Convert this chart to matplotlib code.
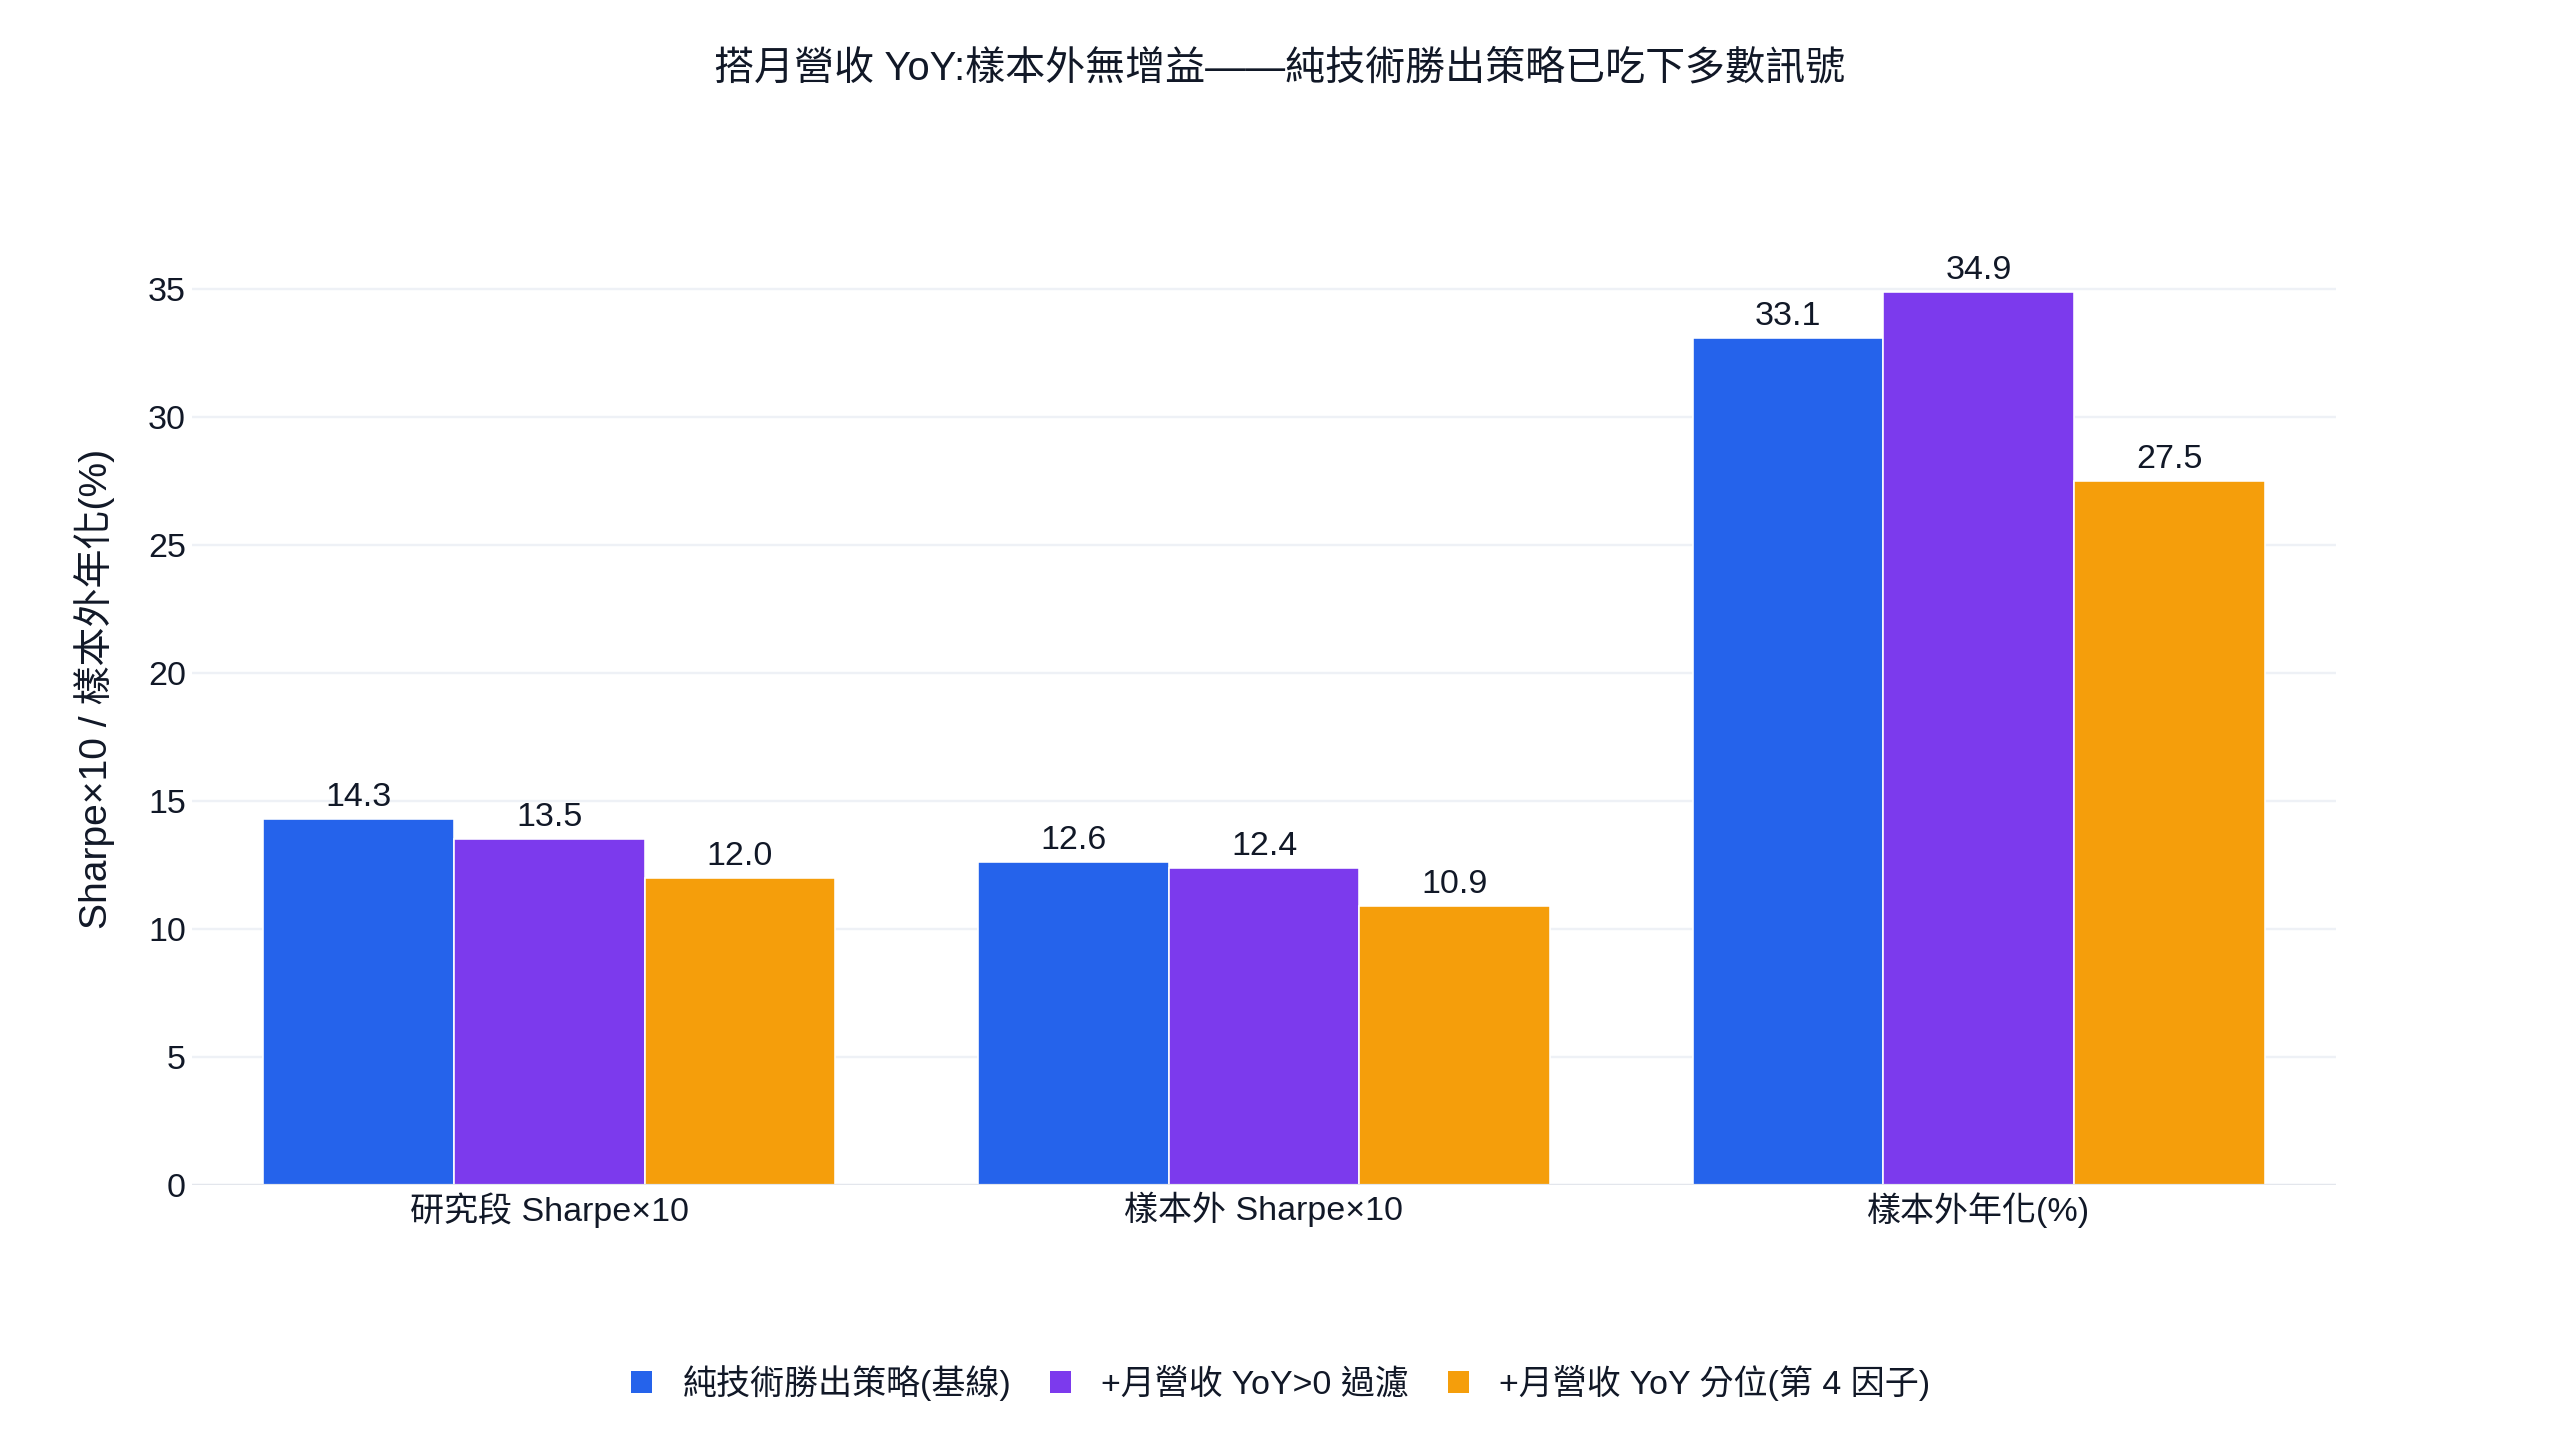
import numpy as np
import matplotlib
matplotlib.use('Agg')
from matplotlib import pyplot as plt
from matplotlib.patches import Patch

# 數據
categories = ['研究段 Sharpe×10', '樣本外 Sharpe×10', '樣本外年化(%)']
series_names = ['純技術勝出策略(基線)', '+月營收 YoY>0 過濾', '+月營收 YoY 分位(第 4 因子)']
baseline = [14.3, 12.6, 33.1]
yoy_filter = [13.5, 12.4, 34.9]
yoy_factor = [12.0, 10.9, 27.5]
y_ticks = [0, 5, 10, 15, 20, 25, 30, 35]

colors = ['#2563EB', '#7C3AED', '#F59E0B']
text_color = '#111827'

plt.rcParams['font.family'] = ['Liberation Sans', 'Noto Sans CJK TC', 'DejaVu Sans']

W, H = 2560, 1440
dpi = 144
fig = plt.figure(figsize=(W / dpi, H / dpi), dpi=dpi, facecolor='white')

# 繪圖區位置 (像素)
left, right, bottom, top = 192, 2336, 1185, 230
ymax = 35 * (bottom - top) / (bottom - 289)
ax = fig.add_axes([left / W, 1 - bottom / H, (right - left) / W, (bottom - top) / H])

x = np.arange(len(categories))
group_w = 0.8
bar_w = group_w / 3
all_series = [baseline, yoy_filter, yoy_factor]

for i, vals in enumerate(all_series):
    pos = x - group_w / 2 + bar_w * (i + 0.5)
    bars = ax.bar(pos, vals, width=bar_w, color=colors[i], edgecolor='white',
                  linewidth=0.8, zorder=3)
    for b, v in zip(bars, vals):
        ax.annotate(f'{v:.1f}', (b.get_x() + b.get_width() / 2, b.get_height()),
                    xytext=(0, 3), textcoords='offset points', ha='center', va='bottom',
                    fontsize=17, color=text_color)

ax.set_xlim(-0.5, len(categories) - 0.5)
ax.set_ylim(0, ymax)
ax.set_yticks(y_ticks)
ax.set_yticklabels([str(t) for t in y_ticks])
ax.set_xticks(x)
ax.set_xticklabels(categories)
ax.tick_params(axis='both', length=0, labelsize=17, labelcolor=text_color)
ax.tick_params(axis='y', pad=3)
ax.tick_params(axis='x', pad=3.5)
ax.grid(axis='y', color='#eef1f6', linewidth=1.2, zorder=0)
ax.axhline(0, color='#e3e6ec', linewidth=1.6, zorder=4)
for s in ax.spines.values():
    s.set_visible(False)

fig.text(0.5, 1 - 68 / H, '搭月營收 YoY:樣本外無增益——純技術勝出策略已吃下多數訊號',
         ha='center', va='center', fontsize=20, color=text_color)
fig.text(95 / W, 1 - 689 / H, 'Sharpe×10 / 樣本外年化(%)', rotation=90,
         ha='center', va='center', fontsize=19.5, color=text_color)

handles = [Patch(facecolor=c, edgecolor='white') for c in colors]
fig.legend(handles, series_names, loc='center', bbox_to_anchor=(0.5, 1 - 1383 / H),
           ncol=3, frameon=False, fontsize=17, handlelength=0.7, handleheight=0.7,
           handletextpad=0.85, columnspacing=1.1, labelcolor=text_color)

fig.savefig('out.png', dpi=dpi, facecolor='white')
